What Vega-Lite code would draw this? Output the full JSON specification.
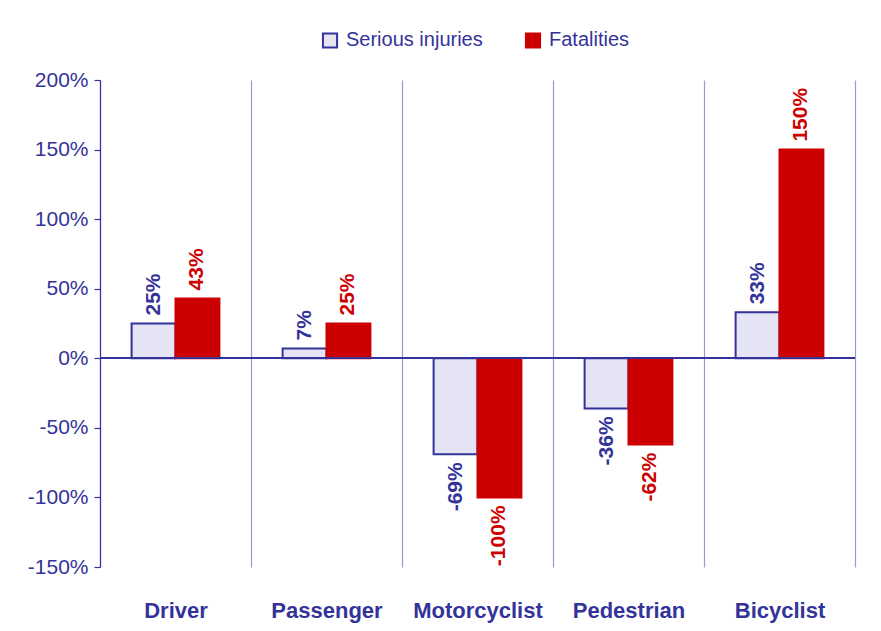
{
  "$schema": "https://vega.github.io/schema/vega-lite/v6.json",
  "width": 755,
  "height": 487,
  "autosize": "none",
  "padding": {"left": 100, "top": 80, "right": 26, "bottom": 64},
  "background": "white",
  "config": {
    "view": {"stroke": null},
    "font": "Liberation Sans",
    "locale": {
      "number": {"decimal": ".", "thousands": ",", "grouping": [3], "currency": ["$", ""], "minus": "-"}
    }
  },
  "data": {
    "values": [
      {"cat": "Driver", "series": "Serious injuries", "value": 0.25},
      {"cat": "Driver", "series": "Fatalities", "value": 0.43},
      {"cat": "Passenger", "series": "Serious injuries", "value": 0.07},
      {"cat": "Passenger", "series": "Fatalities", "value": 0.25},
      {"cat": "Motorcyclist", "series": "Serious injuries", "value": -0.69},
      {"cat": "Motorcyclist", "series": "Fatalities", "value": -1.0},
      {"cat": "Pedestrian", "series": "Serious injuries", "value": -0.36},
      {"cat": "Pedestrian", "series": "Fatalities", "value": -0.62},
      {"cat": "Bicyclist", "series": "Serious injuries", "value": 0.33},
      {"cat": "Bicyclist", "series": "Fatalities", "value": 1.5}
    ]
  },
  "layer": [
    {
      "mark": {"type": "bar", "strokeWidth": 2},
      "encoding": {
        "x": {
          "field": "cat", "type": "nominal",
          "sort": ["Driver", "Passenger", "Motorcyclist", "Pedestrian", "Bicyclist"],
          "scale": {"paddingInner": 0, "paddingOuter": 0},
          "axis": {
            "title": null, "domain": false, "ticks": false, "grid": true,
            "tickBand": "extent", "gridColor": "#9999cc", "gridWidth": 1.2,
            "labelAngle": 0, "labelFont": "Liberation Sans", "labelFontSize": 22,
            "labelFontWeight": "bold", "labelColor": "#333399", "labelPadding": 33
          }
        },
        "xOffset": {
          "field": "series", "type": "nominal",
          "sort": ["Serious injuries", "Fatalities"],
          "scale": {"paddingInner": 0, "paddingOuter": 0.72}
        },
        "y": {
          "field": "value", "type": "quantitative",
          "scale": {"domain": [-1.5, 2], "nice": false, "zero": false},
          "axis": {
            "title": null, "grid": false, "values": [-1.5, -1, -0.5, 0, 0.5, 1, 1.5, 2],
            "format": ".0%", "domainColor": "#333399", "domainWidth": 1.2,
            "tickColor": "#333399", "tickSize": 6, "tickWidth": 1.2,
            "labelFont": "Liberation Sans", "labelFontSize": 21, "labelColor": "#333399",
            "labelPadding": 6
          }
        },
        "fill": {
          "field": "series", "type": "nominal",
          "scale": {"domain": ["Serious injuries", "Fatalities"], "range": ["#e4e4f4", "#cc0000"]},
          "legend": {
            "title": null, "orient": "none", "legendX": 220, "legendY": -50,
            "direction": "horizontal", "symbolType": "square", "symbolSize": 200,
            "symbolStrokeWidth": 2, "labelFont": "Liberation Sans", "labelFontSize": 20,
            "labelColor": "#333399", "labelOffset": 6, "columnPadding": 38, "padding": 0
          }
        },
        "stroke": {
          "field": "series", "type": "nominal",
          "scale": {"domain": ["Serious injuries", "Fatalities"], "range": ["#333399", "#cc0000"]},
          "legend": {
            "title": null, "orient": "none", "legendX": 220, "legendY": -50,
            "direction": "horizontal", "symbolType": "square", "symbolSize": 200,
            "symbolStrokeWidth": 2, "labelFont": "Liberation Sans", "labelFontSize": 20,
            "labelColor": "#333399", "labelOffset": 6, "columnPadding": 38, "padding": 0
          }
        }
      }
    },
    {
      "transform": [{"filter": "datum.value >= 0"}],
      "mark": {"type": "text", "angle": 270, "align": "left", "baseline": "middle", "dx": 8,
               "font": "Liberation Sans", "fontSize": 21, "fontWeight": "bold"},
      "encoding": {
        "x": {"field": "cat", "type": "nominal", "sort": ["Driver", "Passenger", "Motorcyclist", "Pedestrian", "Bicyclist"]},
        "xOffset": {"field": "series", "type": "nominal", "sort": ["Serious injuries", "Fatalities"]},
        "y": {"field": "value", "type": "quantitative"},
        "text": {"field": "value", "type": "quantitative", "format": ".0%"},
        "color": {"condition": {"test": "datum.series === 'Fatalities'", "value": "#cc0000"}, "value": "#333399"}
      }
    },
    {
      "transform": [{"filter": "datum.value < 0"}],
      "mark": {"type": "text", "angle": 270, "align": "right", "baseline": "middle", "dx": -8,
               "font": "Liberation Sans", "fontSize": 21, "fontWeight": "bold"},
      "encoding": {
        "x": {"field": "cat", "type": "nominal", "sort": ["Driver", "Passenger", "Motorcyclist", "Pedestrian", "Bicyclist"]},
        "xOffset": {"field": "series", "type": "nominal", "sort": ["Serious injuries", "Fatalities"]},
        "y": {"field": "value", "type": "quantitative"},
        "text": {"field": "value", "type": "quantitative", "format": ".0%"},
        "color": {"condition": {"test": "datum.series === 'Fatalities'", "value": "#cc0000"}, "value": "#333399"}
      }
    },
    {
      "mark": {"type": "rule", "color": "#333399", "strokeWidth": 1.5},
      "encoding": {"y": {"datum": 0, "type": "quantitative"}}
    }
  ]
}
